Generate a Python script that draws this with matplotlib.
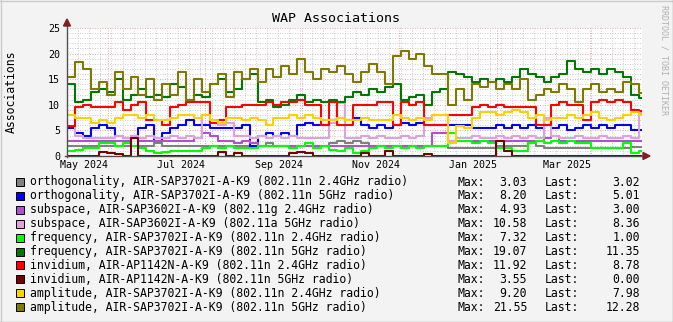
import numpy as np
import matplotlib
matplotlib.use("Agg")
import matplotlib.pyplot as plt
from matplotlib.lines import Line2D
from matplotlib.patches import Polygon, Rectangle

# time axis: days since 2024-05-06, one sample every 5 days
start = np.datetime64('2024-05-06')
span_days = 362
step = 5

gray_24 = [2, 2, 2, 2, 2, 2, 2, 2, 2, 2, 2, 2.5, 2, 2, 2, 2, 2, 2, 2, 2, 2, 2, 2, 2, 2, 2.5, 2, 2, 2, 2,
           2, 2, 2, 2.5, 3, 2.5, 3, 2.5, 2, 2, 2, 2, 2, 2, 2, 2, 2, 2, 1.6, 1.6, 1.6, 1.6, 1.6, 1.5, 2, 2, 2, 2,
           2.5, 2, 1.6, 1.6, 1.6, 1.6, 1.6, 1.6, 1.6, 1.6, 1.6, 1.6, 1.6, 1.8, 1.8]
blue_5 = [5.5, 4.5, 4, 5.5, 6, 5.5, 4, 3.5, 4, 5.5, 6, 3, 4.5, 5.5, 6, 7, 6, 6, 5.5, 5.5, 5.5, 5.5, 6, 2, 4,
          4.5, 4, 4.5, 4, 6, 6.5, 6, 6, 7, 7.5, 7, 7.5, 6, 5.5, 6, 5.5, 6, 6.5, 6, 6.5, 6, 6, 6, 6, 6, 6,
          5.5, 5.5, 5.5, 6, 5.5, 6, 5.5, 6, 5.5, 6, 5.5, 6, 5, 5.5, 6, 5.5, 6, 5.5, 6, 6, 5, 5]
orchid_24 = [3, 3, 3, 3, 3, 3, 3, 3, 3.5, 3, 3, 3, 3, 3, 3, 3, 3.5, 4.5, 4, 3, 3, 2.5, 3, 2.5, 2, 2, 2, 2, 2,
             2, 2, 2, 2, 2, 2, 2, 2, 2, 2, 2, 2, 2, 2, 2, 2, 2, 4.5, 4.5, 3, 3, 3, 3, 3, 3, 3, 3, 3, 3,
             3, 3, 3.5, 4, 3, 3, 3, 3, 3, 3, 3, 3, 3, 3, 3]
plum_5 = [8, 4, 3.5, 3.5, 3.5, 3.5, 4, 3.5, 4, 3.5, 4, 3.5, 3.5, 4, 3.5, 4, 3.5, 8, 6.5, 6, 6.5, 4, 4, 3.5,
          4, 3.5, 4, 3.5, 4, 3.5, 3.5, 3.5, 3.5, 6.5, 10.3, 3.5, 3.5, 4, 3.5, 4, 3.5, 3.5, 4, 3.5, 4, 7.5,
          8, 8, 3, 3.5, 3.5, 4, 3.5, 3.5, 4, 3.5, 4, 3.5, 4, 3.5, 7.5, 4, 3.5, 3.5, 4, 3.5, 3.5, 4, 3.5,
          3.5, 4, 3.5, 8.4]
lime_24 = [1, 1.2, 1.5, 1.5, 2.5, 2.5, 2, 2.5, 2, 1.5, 1, 0.5, 0.8, 1, 1, 1, 1, 1.5, 2, 1.5, 2, 1.5, 1.5,
           1.5, 2, 2, 2, 2, 1.5, 2, 2.5, 1.5, 2, 1.2, 1, 1.5, 0.5, 1, 1.5, 2, 1.5, 2, 1.5, 2, 1.5, 2, 2,
           2, 4.5, 3, 3, 2.5, 3, 2.5, 1.5, 1.5, 1, 1, 2.5, 3, 2.5, 3, 2.5, 3, 2.5, 2.5, 1.5, 1.5, 1.5,
           1.5, 2.5, 0.5, 1]
green_5 = [14, 10.5, 11, 12.5, 13, 12.5, 15, 11, 12, 13, 11.5, 12, 11.5, 14, 13.5, 11, 12, 11.5, 14, 15,
           12.5, 13, 15, 16, 10.5, 11, 9.5, 10, 11, 12, 10.5, 11, 10.5, 11, 10.5, 11.5, 12.5, 12, 13, 12.5,
           13.5, 14, 11, 11.5, 12, 10, 12.5, 13, 16.5, 16, 15.5, 14.5, 15, 14.5, 15, 14.5, 15.5, 17, 16,
           15.5, 14.5, 15.5, 16, 18.5, 17, 16.5, 17, 16, 17, 16.5, 15.5, 12, 11.4]
red_24 = [5.8, 9.5, 10, 9.5, 9.5, 9.5, 10.5, 9, 10, 10.5, 7, 7, 6, 9.5, 10, 10.5, 10.5, 10.5, 6.5, 7, 9.5,
          9.5, 10, 10, 10, 10.5, 10, 10.5, 10.5, 11, 10, 10, 6, 10.5, 6, 6, 10, 10, 10, 10.5, 10.5, 6,
          10.5, 10, 10.5, 6, 6, 6, 8, 8, 8, 9.5, 10, 9.5, 10, 9.5, 9.5, 9.5, 9.5, 6, 6, 10, 10.5, 10, 10,
          7, 10.5, 11, 10.5, 11, 10.5, 9, 8.8]
darkred_5 = [0, 0, 0, 0, 0.8, 0.5, 0.3, 0, 3.5, 0, 0, 0, 0, 0, 0, 0, 0, 0, 0, 0.8, 0, 0.5, 0, 0, 0, 0, 0, 0,
             0.5, 0.8, 0.5, 0, 0, 0, 0, 0, 0, 0.5, 0, 0, 1, 0, 0, 0, 0, 0.3, 0, 0, 0, 0, 0, 0, 0, 0, 3, 1,
             0, 0, 0, 0, 0, 0, 0, 0, 0, 0, 0, 0, 0, 0, 0, 0, 0]
gold_24 = [8, 7.5, 7.5, 6.5, 7, 6.5, 7.5, 8, 8, 7.5, 8, 7, 7, 7.5, 8, 8, 7.5, 8, 7, 6.5, 7.5, 7.5, 7, 7.5,
           7, 6, 7.5, 7.5, 8, 7.5, 8, 7.5, 7, 7, 7.5, 7, 7, 7.5, 7, 7, 7, 8, 7.5, 7, 7.5, 7, 8, 8, 2.5,
           5.8, 5.5, 7.5, 8.5, 8.5, 8, 8.5, 9, 8.5, 7.5, 8, 7, 7.5, 7.5, 8, 7.5, 8, 8.5, 7.5, 7, 7.5, 8,
           8.5, 8]
olive_5 = [15.5, 18.3, 17, 13, 14.5, 12, 16.5, 13, 15.5, 12, 15, 11, 14, 12, 16.5, 11, 15, 12.5, 14, 16,
           11.5, 16.5, 15, 17, 14.5, 17, 15.5, 17.5, 16, 19, 16.5, 15, 17, 16.5, 17.5, 16, 14.5, 16.5, 18,
           16.5, 14, 19.5, 20.5, 19, 20, 17.5, 16, 16, 10, 13, 11, 14, 13.5, 14.5, 13, 14, 13, 15, 11, 12,
           13, 12.5, 14, 13, 10.5, 13, 14, 12.5, 13, 12.5, 14.5, 14, 12.3]

series = [
    ('orthogonality, AIR-SAP3702I-A-K9 (802.11n 2.4GHz radio)', gray_24, '#808080', '3.03', '3.02'),
    ('orthogonality, AIR-SAP3702I-A-K9 (802.11n 5GHz radio)', blue_5, '#0000FF', '8.20', '5.01'),
    ('subspace, AIR-SAP3602I-A-K9 (802.11g 2.4GHz radio)', orchid_24, '#B050D0', '4.93', '3.00'),
    ('subspace, AIR-SAP3602I-A-K9 (802.11a 5GHz radio)', plum_5, '#E0A0E0', '10.58', '8.36'),
    ('frequency, AIR-SAP3702I-A-K9 (802.11n 2.4GHz radio)', lime_24, '#00FF00', '7.32', '1.00'),
    ('frequency, AIR-SAP3702I-A-K9 (802.11n 5GHz radio)', green_5, '#007800', '19.07', '11.35'),
    ('invidium, AIR-AP1142N-A-K9 (802.11n 2.4GHz radio)', red_24, '#FF0000', '11.92', '8.78'),
    ('invidium, AIR-AP1142N-A-K9 (802.11n 5GHz radio)', darkred_5, '#780000', '3.55', '0.00'),
    ('amplitude, AIR-SAP3702I-A-K9 (802.11n 2.4GHz radio)', gold_24, '#FFD000', '9.20', '7.98'),
    ('amplitude, AIR-SAP3702I-A-K9 (802.11n 5GHz radio)', olive_5, '#807800', '21.55', '12.28'),
]

W, H = 673, 322
mono = 'DejaVu Sans Mono'


def fx(px):
    return px / W


def fy(py):
    return 1 - py / H


def day_of(date):
    return (np.datetime64(date) - start) / np.timedelta64(1, 'D')


fig = plt.figure(figsize=(W / 100, H / 100), dpi=100, facecolor='#F3F3F3')

# 3D-ish frame round the image
fig.add_artist(Line2D([0, 1], [fy(0.5), fy(0.5)], transform=fig.transFigure, color='#CBCBCB', lw=1))
fig.add_artist(Line2D([fx(0.5), fx(0.5)], [0, 1], transform=fig.transFigure, color='#CBCBCB', lw=1))
fig.add_artist(Line2D([0, 1], [fy(H - 0.5), fy(H - 0.5)], transform=fig.transFigure, color='#999999', lw=1))
fig.add_artist(Line2D([fx(W - 0.5), fx(W - 0.5)], [0, 1], transform=fig.transFigure, color='#999999', lw=1))

left, right, top, bottom = 67, 642, 28, 156
ax = fig.add_axes([fx(left), fy(bottom), fx(right - left), (bottom - top) / H])
ax.set_facecolor('white')
ax.set_xlim(0, span_days)
ax.set_ylim(0, 25)
for s in ax.spines.values():
    s.set_visible(False)

# grid: minor every unit / every week, major every 5 / every 2 months
for v in range(1, 26):
    if v % 5:
        ax.axhline(v, color='#BBBBBB', lw=0.6, ls=(0, (1, 2)), zorder=0)
    else:
        ax.axhline(v, color='#E88888', lw=0.6, ls=(0, (1, 2)), zorder=0)
for d in range(0, span_days, 7):
    ax.axvline(d, color='#BBBBBB', lw=0.6, ls=(0, (1, 2)), zorder=0)
for m in ['2024-06-01', '2024-08-01', '2024-10-01', '2024-12-01', '2025-02-01', '2025-04-01']:
    ax.axvline(day_of(m), color='#E88888', lw=0.6, ls=(0, (1, 2)), zorder=0)

x = np.append(np.arange(len(olive_5)) * step, span_days)
for name, vals, col, vmax, vlast in series:
    y = np.append(vals, vals[-1])
    ax.step(x, y, where='post', color=col, lw=1.5, zorder=3)

ax.set_yticks([0, 5, 10, 15, 20, 25])
ax.tick_params(axis='y', length=0, pad=5, labelsize=7.2)
lab_dates = ['2024-05-01', '2024-07-01', '2024-09-01', '2024-11-01', '2025-01-01', '2025-03-01']
lab_text = ['May 2024', 'Jul 2024', 'Sep 2024', 'Nov 2024', 'Jan 2025', 'Mar 2025']
ax.set_xticks([day_of(d) + 15.5 for d in lab_dates])
ax.set_xticklabels(lab_text)
ax.tick_params(axis='x', length=0, pad=3, labelsize=7.2)
for t in ax.get_xticklabels() + ax.get_yticklabels():
    t.set_fontfamily(mono)

# axes with arrows
fig.add_artist(Line2D([fx(left), fx(left)], [fy(bottom + 1), fy(23)], transform=fig.transFigure,
                      color='#505050', lw=1, zorder=5))
fig.add_artist(Line2D([fx(left - 2), fx(647)], [fy(bottom), fy(bottom)], transform=fig.transFigure,
                      color='#505050', lw=1, zorder=2))
fig.add_artist(Polygon([[fx(63.5), fy(26)], [fx(70.5), fy(26)], [fx(67), fy(19)]], closed=True,
                       transform=fig.transFigure, color='#7F1F1F', zorder=6))
fig.add_artist(Polygon([[fx(643), fy(152.5)], [fx(643), fy(159.5)], [fx(650), fy(156)]], closed=True,
                       transform=fig.transFigure, color='#7F1F1F', zorder=6))

fig.text(fx(336), fy(18), 'WAP Associations', ha='center', va='center', fontsize=9.6, family=mono)
fig.text(fx(11), fy(92), 'Associations', ha='center', va='center', rotation=90, fontsize=8.3, family=mono)
fig.text(fx(664), fy(60), 'RRDTOOL / TOBI OETIKER', ha='center', va='center', rotation=270,
         fontsize=6, family=mono, color='#B0B0B0')

# legend
for k, (name, vals, col, vmax, vlast) in enumerate(series):
    yc = 182 + 13.9 * k
    fig.add_artist(Rectangle((fx(15.5), fy(yc + 4)), 8 / W, 8 / H, transform=fig.transFigure,
                             facecolor=col, edgecolor='black', lw=0.7))
    fig.text(fx(30), fy(yc), name, ha='left', va='center', fontsize=8.3, family=mono)
    fig.text(fx(458), fy(yc), 'Max:', ha='left', va='center', fontsize=8.3, family=mono)
    fig.text(fx(527), fy(yc), vmax, ha='right', va='center', fontsize=8.3, family=mono)
    fig.text(fx(545), fy(yc), 'Last:', ha='left', va='center', fontsize=8.3, family=mono)
    fig.text(fx(640), fy(yc), vlast, ha='right', va='center', fontsize=8.3, family=mono)

fig.savefig('out.png', dpi=100, facecolor=fig.get_facecolor())
